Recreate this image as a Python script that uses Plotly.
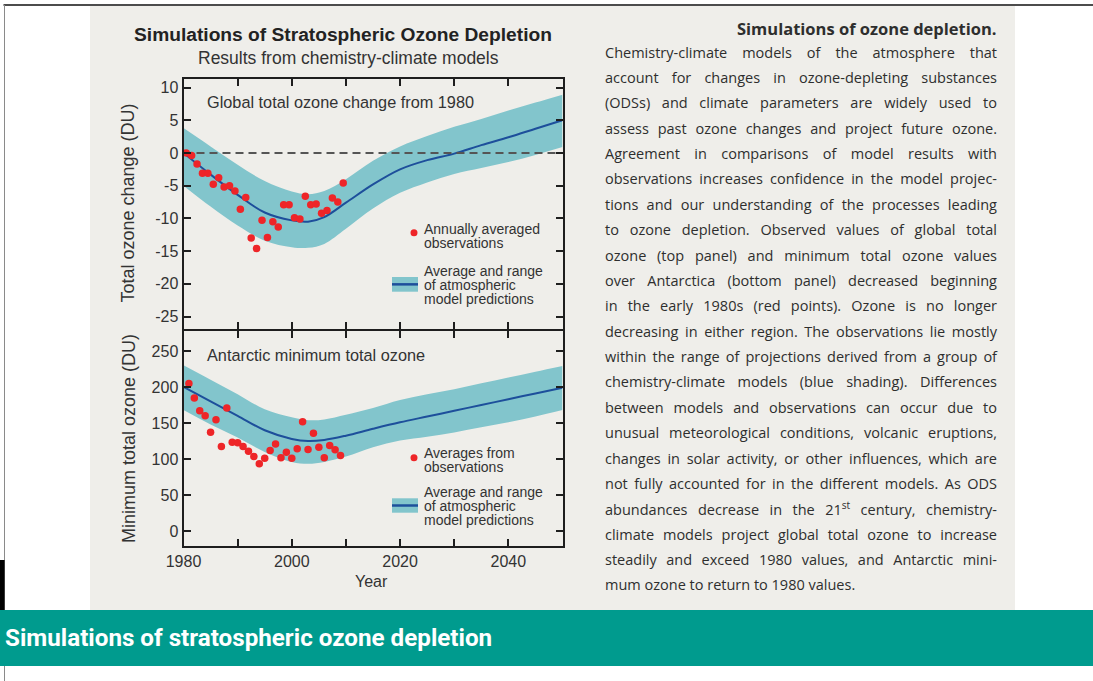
import json
import plotly.graph_objects as go

W, H = 1093, 681

# ---------------- data ----------------
model_years = [1980, 1985, 1990, 1995, 2000, 2003, 2006, 2010, 2015, 2020, 2025, 2030, 2035, 2040, 2045, 2050]

# Global total ozone change from 1980 (DU): model mean and range
global_mean = [0.0, -3.3, -6.4, -9.1, -10.3, -10.5, -9.8, -7.6, -4.8, -2.5, -1.1, -0.1, 1.2, 2.4, 3.7, 5.0]
global_high = [3.8, 1.0, -1.8, -4.3, -5.9, -6.3, -5.8, -4.0, -1.2, 1.0, 2.6, 4.0, 5.2, 6.5, 7.7, 8.9]
global_low = [-5.0, -8.2, -11.1, -13.4, -14.4, -14.5, -13.9, -11.6, -8.5, -6.1, -4.5, -3.2, -2.3, -1.4, -0.3, 0.9]

# Antarctic minimum total ozone (DU): model mean and range
antarctic_mean = [200, 180, 160, 140, 128, 125, 126.5, 132.5, 142, 151, 159, 167, 175, 183, 191, 199]
antarctic_high = [230, 210, 190, 169, 158, 154, 155, 161.5, 171, 182, 190, 197, 205, 213, 221, 229]
antarctic_low = [168, 148, 130, 110, 96, 93.5, 96, 103.5, 116.5, 125.7, 131, 137, 144, 151, 159, 168]

# Annually averaged global observations (plotted at mid-year)
global_obs_years = [1980.5, 1981.5, 1982.5, 1983.5, 1984.5, 1985.5, 1986.5, 1987.5, 1988.5, 1989.5,
                    1990.5, 1991.5, 1992.5, 1993.5, 1994.5, 1995.5, 1996.5, 1997.5, 1998.5, 1999.5,
                    2000.5, 2001.5, 2002.5, 2003.5, 2004.5, 2005.5, 2006.5, 2007.5, 2008.5, 2009.5]
global_obs = [0.0, -0.4, -1.7, -3.1, -3.1, -4.8, -3.8, -5.2, -5.0, -5.8,
              -8.6, -6.8, -13.0, -14.6, -10.3, -12.9, -10.5, -11.3, -7.9, -7.9,
              -9.9, -10.1, -6.6, -7.9, -7.8, -9.2, -8.8, -6.9, -7.5, -4.6]

# Antarctic minimum total ozone observations
antarctic_obs_years = [1981, 1982, 1983, 1984, 1985, 1986, 1987, 1988, 1989, 1990,
                       1991, 1992, 1993, 1994, 1995, 1996, 1997, 1998, 1999, 2000,
                       2001, 2002, 2003, 2004, 2005, 2006, 2007, 2008, 2009]
antarctic_obs = [204.9, 184.6, 167.1, 160.2, 137.2, 154.7, 117.4, 170.8, 123.4, 122.5,
                 117.4, 111.0, 103.6, 93.5, 101.3, 111.9, 121.1, 101.7, 109.6, 101.3,
                 114.2, 151.9, 113.3, 135.8, 116.5, 101.7, 118.8, 112.8, 105.0]

# Axis ticks
year_ticks = [1980, 2000, 2020, 2040]
year_labels = ["1980", "2000", "2020", "2040"]
global_ticks = [10, 5, 0, -5, -10, -15, -20, -25]
global_labels = ["10", "5", "0", "-5", "-10", "-15", "-20", "-25"]
antarctic_ticks = [250, 200, 150, 100, 50, 0]
antarctic_labels = ["250", "200", "150", "100", "50", "0"]

# Caption text, one entry per printed line
caption_title = "Simulations of ozone depletion."
caption_lines = [
    "Chemistry-climate models of the atmosphere that",
    "account for changes in ozone-depleting substances",
    "(ODSs) and climate parameters are widely used to",
    "assess past ozone changes and project future ozone.",
    "Agreement in comparisons of model results with",
    "observations increases confidence in the model projec-",
    "tions and our understanding of the processes leading",
    "to ozone depletion. Observed values of global total",
    "ozone (top panel) and minimum total ozone values",
    "over Antarctica (bottom panel) decreased beginning",
    "in the early 1980s (red points). Ozone is no longer",
    "decreasing in either region. The observations lie mostly",
    "within the range of projections derived from a group of",
    "chemistry-climate models (blue shading). Differences",
    "between models and observations can occur due to",
    "unusual meteorological conditions, volcanic eruptions,",
    "changes in solar activity, or other influences, which are",
    "not fully accounted for in the different models. As ODS",
    "abundances decrease in the 21<sup>st</sup> century, chemistry-",
    "climate models project global total ozone to increase",
    "steadily and exceed 1980 values, and Antarctic mini-",
    "mum ozone to return to 1980 values.",
]
banner_text = "Simulations of stratospheric ozone depletion"

# ---------------- styling ----------------
SANS = "Liberation Sans, Arial, sans-serif"
BODY = "Open Sans, Noto Sans, sans-serif"
BANNER_FONT = "Roboto, Noto Sans, sans-serif"
BAND = "#82c5cc"
LINE = "#1d4f9b"
RED = "#ee2528"
FRAME = "#1e1e1e"
TXT = "#333333"
BODY_TXT = "#2e2e2e"
PANEL = "#efeeea"
PLOT_BG = "#eef1ea"
TEAL = "#009b8e"


def px(x):
    """horizontal pixel -> paper fraction"""
    return x / W


def py(y):
    """vertical pixel from the top -> paper fraction"""
    return 1 - y / H


def band_traces(xs, lo, hi, mean, xa, ya):
    return [
        go.Scatter(x=xs, y=lo, mode="lines", line=dict(width=0, shape="spline"),
                   hoverinfo="skip", showlegend=False, xaxis=xa, yaxis=ya),
        go.Scatter(x=xs, y=hi, mode="lines", fill="tonexty", fillcolor=BAND,
                   line=dict(width=0, shape="spline"), hoverinfo="skip",
                   showlegend=False, xaxis=xa, yaxis=ya),
        go.Scatter(x=xs, y=mean, mode="lines", line=dict(color=LINE, width=2, shape="spline"),
                   showlegend=False, xaxis=xa, yaxis=ya),
    ]


fig = go.Figure()
for t in band_traces(model_years, global_low, global_high, global_mean, "x2", "y2"):
    fig.add_trace(t)
# 1980 reference level
fig.add_trace(go.Scatter(x=[model_years[0], model_years[-1]], y=[0, 0], mode="lines",
                         line=dict(color="#555555", width=2, dash="8px,5px"),
                         hoverinfo="skip", showlegend=False, xaxis="x2", yaxis="y2"))
fig.add_trace(go.Scatter(x=global_obs_years, y=global_obs, mode="markers",
                         marker=dict(color=RED, size=7.5), showlegend=False,
                         xaxis="x2", yaxis="y2"))

for t in band_traces(model_years, antarctic_low, antarctic_high, antarctic_mean, "x", "y"):
    fig.add_trace(t)
fig.add_trace(go.Scatter(x=antarctic_obs_years, y=antarctic_obs, mode="markers",
                         marker=dict(color=RED, size=7.5), showlegend=False,
                         xaxis="x", yaxis="y"))

axis_common = dict(showline=True, linewidth=2, linecolor=FRAME, mirror="ticks",
                   ticks="inside", ticklen=7, tickwidth=1.5, tickcolor=FRAME,
                   showgrid=False, zeroline=False, automargin=False,
                   tickfont=dict(family=SANS, size=16, color=TXT))
minor_years = dict(dtick=10, tick0=1980, ticks="inside", ticklen=7, tickwidth=1.5,
                   tickcolor=FRAME, showgrid=False)

XDOM = [px(183.5), px(562.5)]
TOP_DOM = [py(329), py(79)]
BOT_DOM = [py(545.5), py(331)]

fig.update_layout(
    width=W, height=H, margin=dict(l=0, r=0, t=0, b=0, pad=0, autoexpand=False),
    paper_bgcolor="white", plot_bgcolor=PLOT_BG, showlegend=False,
    xaxis=dict(domain=XDOM, range=[1980, 2050], anchor="y", tickmode="array",
               tickvals=year_ticks, ticktext=year_labels, minor=minor_years, **axis_common),
    xaxis2=dict(domain=XDOM, range=[1980, 2050], anchor="y2", matches="x", tickmode="array",
                tickvals=year_ticks, showticklabels=False, minor=minor_years, **axis_common),
    yaxis=dict(domain=BOT_DOM, range=[-19.8, 277.6], anchor="x", tickmode="array",
               tickvals=antarctic_ticks, ticktext=antarctic_labels, **axis_common),
    yaxis2=dict(domain=TOP_DOM, range=[-26.9, 11.3], anchor="x2", tickmode="array",
                tickvals=global_ticks, ticktext=global_labels, **axis_common),
)

# ---------------- page furniture ----------------
shapes = [
    dict(type="rect", xref="paper", yref="paper", x0=px(90), x1=px(1015), y0=py(610), y1=py(6),
         fillcolor=PANEL, line_width=0, layer="below"),
    dict(type="line", xref="paper", yref="paper", x0=px(3.5), x1=1, y0=py(5), y1=py(5),
         line=dict(color="#111111", width=1.5)),
    dict(type="line", xref="paper", yref="paper", x0=px(4.5), x1=px(4.5), y0=py(5), y1=0,
         line=dict(color="#8a8a8a", width=1)),
    dict(type="rect", xref="paper", yref="paper", x0=0, x1=px(4.6), y0=py(610), y1=py(560),
         fillcolor="#000000", line_width=0),
    dict(type="rect", xref="paper", yref="paper", x0=0, x1=1, y0=py(666), y1=py(610),
         fillcolor=TEAL, line_width=0),
]


def legend_glyphs(dot_y, sw_top, sw_bot):
    mid = (sw_top + sw_bot) / 2
    return [
        dict(type="circle", xref="paper", yref="paper", x0=px(410.5), x1=px(417.5),
             y0=py(dot_y + 3.5), y1=py(dot_y - 3.5), fillcolor=RED, line_width=0),
        dict(type="rect", xref="paper", yref="paper", x0=px(392), x1=px(418),
             y0=py(sw_bot), y1=py(sw_top), fillcolor=BAND, line_width=0),
        dict(type="line", xref="paper", yref="paper", x0=px(392), x1=px(418),
             y0=py(mid), y1=py(mid), line=dict(color=LINE, width=2.5)),
    ]


shapes += legend_glyphs(232.7, 277, 291.7)
shapes += legend_glyphs(457.7, 498.3, 512.7)
fig.update_layout(shapes=shapes)


def label(text, x, y, size, xanchor="left", family=SANS, color=TXT, weight="normal", angle=0):
    return dict(text=text, x=px(x), y=py(y), xref="paper", yref="paper",
                xanchor=xanchor, yanchor="middle", showarrow=False, textangle=angle,
                borderpad=0, borderwidth=0, align="left",
                font=dict(family=family, size=size, color=color, weight=weight))


ann = [
    label("Simulations of Stratospheric Ozone Depletion", 343.3, 35, 19.2, "center",
          color="#222222", weight="bold"),
    label("Results from chemistry-climate models", 349, 58.3, 17.5, "center"),
    label("Total ozone change (DU)", 128.3, 203.3, 18, "center", angle=-90),
    label("Minimum total ozone (DU)", 129, 439, 18, "center", angle=-90),
    label("Year", 371, 581.7, 16, "center"),
    label("Global total ozone change from 1980", 206.7, 102.5, 16.3),
    label("Antarctic minimum total ozone", 206.7, 355, 16.3),
    label("Annually averaged", 424, 229.3, 14),
    label("observations", 424, 242.7, 14),
    label("Average and range", 424, 270.7, 14),
    label("of atmospheric", 424, 285, 14),
    label("model predictions", 424, 299, 14),
    label("Averages from", 424, 453.3, 14),
    label("observations", 424, 466.7, 14),
    label("Average and range", 424, 491.7, 14),
    label("of atmospheric", 424, 505.7, 14),
    label("model predictions", 424, 520, 14),
    label(caption_title, 997, 28.3, 16.5, "right", family=BODY, color=BODY_TXT, weight="bold"),
    label(banner_text, 5, 637.5, 24.2, family=BANNER_FONT, color="white", weight="bold"),
]
LINE0, LEAD = 52.0, 25.38
for i, line in enumerate(caption_lines):
    ann.append(label(line, 605, LINE0 + i * LEAD, 14.5, family=BODY, color=BODY_TXT))
fig.update_layout(annotations=ann)

# Justify every caption line except the last one to the column width
justify_js = """
var gd = document.getElementById('{plot_id}');
var colWidth = %s;
var lines = %s;
gd.querySelectorAll('g.annotation text.annotation-text').forEach(function (t) {
  var raw = t.getAttribute('data-unformatted');
  if (lines.indexOf(raw) < 0) return;
  var spaces = (t.textContent.match(/ /g) || []).length;
  if (!spaces) return;
  var w = t.getComputedTextLength();
  t.style.wordSpacing = ((colWidth - w) / spaces) + 'px';
});
""" % (json.dumps(997 - 605), json.dumps(caption_lines[:-1]))

fig.write_html("out.html", post_script=justify_js)
